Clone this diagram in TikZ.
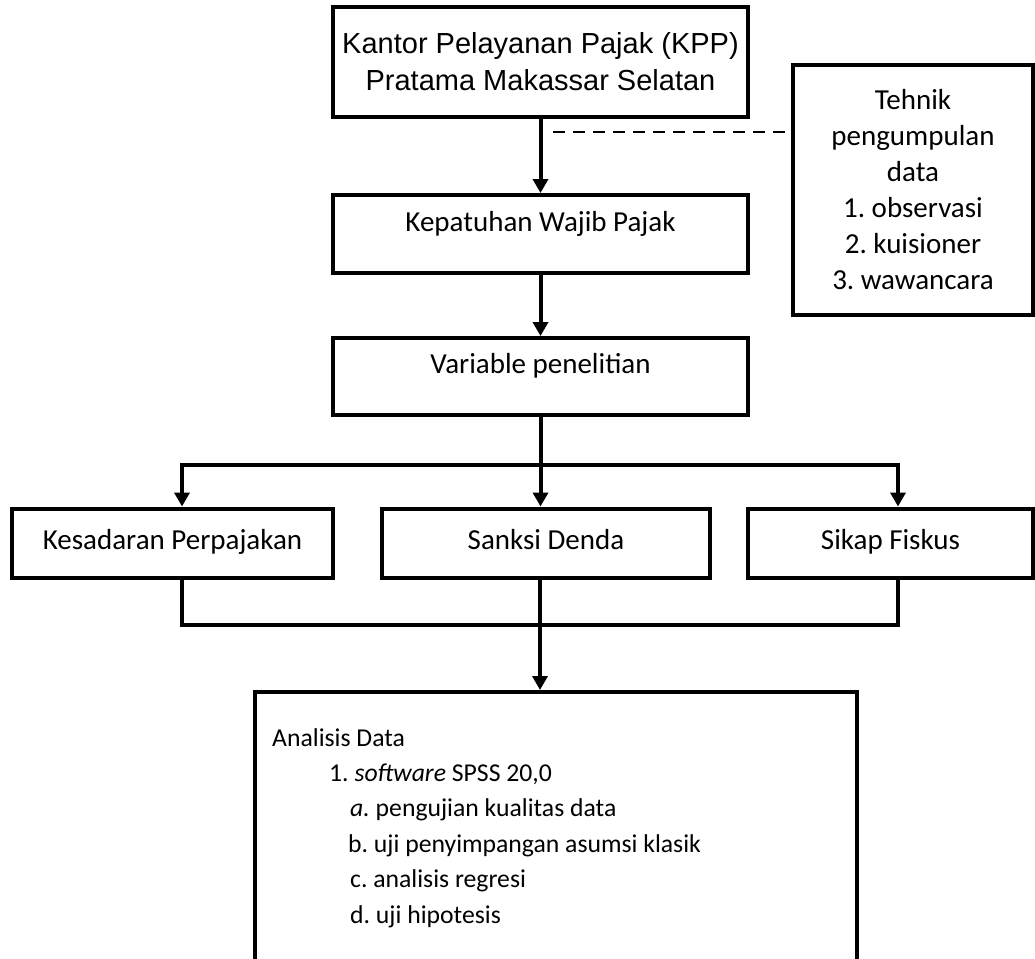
\documentclass[tikz,border=0pt]{standalone}
\usepackage{fontspec}
\setmainfont{Carlito}
\newfontfamily\arialfont{Liberation Sans}
\usepackage{tikz}
\usetikzlibrary{arrows.meta, positioning, calc}
\definecolor{myblack}{RGB}{0,0,0}
\frenchspacing
\newcommand{\kotakfont}{\fontsize{29pt}{36pt}\selectfont}
\newcommand{\judulfont}{\arialfont\fontsize{29pt}{37pt}\selectfont}
\newcommand{\analisisfont}{\fontsize{25.7pt}{35.4pt}\selectfont}
\tikzset{
  block/.style={rectangle, draw=myblack, line width=4pt, align=center,
    inner sep=0pt, font=\kotakfont},
  rowblock/.style={block, text height=19pt, text depth=6pt},
  upblock/.style={block, text height=19pt, text depth=25pt},
  arrow/.style={-{Triangle[width=15pt,length=14pt]}, line width=4pt, color=myblack},
  line/.style={line width=4pt, color=myblack},
  dashline/.style={line width=1.5pt, color=myblack, dash pattern=on 12pt off 8pt}
}

\begin{document}
\begin{tikzpicture}[x=1pt, y=-1pt]
  \useasboundingbox (0,0) rectangle (1035,958);
  % Top boxes
  \node[block, font=\judulfont, minimum width=415pt, minimum height=110pt]
    (kpp) at (540.5,62) {Kantor Pelayanan Pajak (KPP)\\Pratama Makassar Selatan};
  \node[block, minimum width=240pt, minimum height=250pt] (teknik) at (913,190)
    {Tehnik\\pengumpulan\\data\\1. observasi\\2. kuisioner\\3. wawancara};
  \node[upblock, minimum width=415pt, minimum height=78pt] (kepatuhan) at (540.5,234)
    {Kepatuhan Wajib Pajak};
  \node[upblock, minimum width=415pt, minimum height=77pt] (variabel) at (540.5,376.5)
    {Variable penelitian};

  % Variables
  \node[rowblock, minimum width=321pt, minimum height=69pt] (kesadaran) at (172.5,543)
    {Kesadaran Perpajakan};
  \node[rowblock, minimum width=328pt, minimum height=69pt] (sanksi) at (546,543)
    {Sanksi Denda};
  \node[rowblock, minimum width=285pt, minimum height=69pt] (sikap) at (890.5,543)
    {Sikap Fiskus};

  % Analysis box (runs past the bottom edge)
  \node[block, anchor=north west, minimum width=602pt, minimum height=330pt]
    (analisis) at (253,690) {};
  \node[anchor=north west, align=left, inner sep=0pt, font=\analisisfont]
    (analisisisi) at (272,728) {Analisis Data\\
    \hspace*{57pt}1. \textit{software} SPSS 20,0\\
    \hspace*{78pt}\textit{a.} pengujian kualitas data\\
    \hspace*{76pt}b. uji penyimpangan asumsi klasik\\
    \hspace*{78pt}c. analisis regresi\\
    \hspace*{78pt}d. uji hipotesis};

  % Connectors
  \coordinate (dashstart) at (553,132);
  \coordinate (cabangkiri) at (182,465);
  \coordinate (cabangkanan) at (898,465);
  \coordinate (kumpulkiri) at (182,625);
  \coordinate (kumpulkanan) at (898,625);
  \coordinate (tengah) at (540,625);
  \draw[arrow] (kpp.south) -- (kepatuhan.north);
  \draw[dashline] (dashstart) -- (dashstart -| teknik.west);
  \draw[arrow] (kepatuhan.south) -- (variabel.north);
  \draw[arrow] (variabel.south |- cabangkiri) -- (cabangkiri) -- (kesadaran.north -| cabangkiri);
  \draw[arrow] (variabel.south |- cabangkiri) -- (cabangkanan) -- (sikap.north -| cabangkanan);
  \draw[arrow] (variabel.south) -- (variabel.south |- sanksi.north);
  \draw[line] (kesadaran.south -| kumpulkiri) -- (kumpulkiri) -- (kumpulkanan)
    -- (sikap.south -| kumpulkanan);
  \draw[arrow] (sanksi.south -| tengah) -- (tengah |- analisis.north);
\end{tikzpicture}
\end{document}
